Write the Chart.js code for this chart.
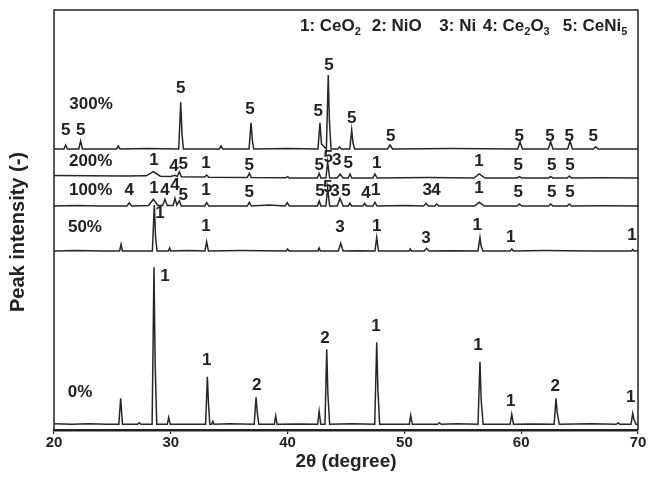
<!DOCTYPE html>
<html><head><meta charset="utf-8">
<script src="https://cdn.jsdelivr.net/npm/chart.js@4.4.1/dist/chart.umd.min.js"></script>
<style>html,body{margin:0;padding:0;background:#fff;} canvas{display:block;}</style>
</head><body>
<canvas id="c" width="648" height="499"></canvas>
<script>
// Sample names and vertical stacking offsets (arbitrary intensity units)
const sampleNames = ['0%', '50%', '100%', '200%', '300%'];
const offsets = [5.7, 179, 224, 252, 281];

// XRD patterns: [2theta, intensity above the sample's own baseline]
const xrd0 = [[20,0.5],[21.5,0],[23,0.6],[24.5,0],[25.55,0],[25.71,26],[25.86,0],[27.15,0],[27.3,1.5],[27.45,0],
  [28.4,0],[28.56,157],[28.66,60],[28.8,0],[29.7,0],[29.82,7],[29.95,0],[32.98,0],[33.13,47.5],[33.23,20],[33.34,0],
  [33.5,0],[33.6,3],[33.7,0],[35,0.5],[37.14,0],[37.3,27],[37.4,12],[37.54,0],[38.86,0],[38.98,8.5],[39.1,0],[41,0.4],
  [42.58,0],[42.7,13],[42.84,0],[43.2,0],[43.35,75],[43.45,30],[43.6,0],[45.5,0.5],[47.46,0],[47.63,82],[47.73,35],[47.88,0],
  [50.42,0],[50.54,9],[50.68,0],[52.85,0],[53,1.5],[53.15,0],[54.5,0.5],[56.3,0],[56.47,62.5],[56.57,25],[56.74,0],
  [59.05,0],[59.19,10],[59.34,0],[61,0.4],[62.82,0],[62.98,26],[63.08,12],[63.26,0],[66,0.5],[68.15,0],[68.3,1.5],[68.45,0],
  [69.4,0],[69.55,11],[69.65,5],[69.82,0],[70,0]];
const xrd50 = [[20,0],[22,0.5],[24,0],[25.62,0],[25.74,6.7],[25.86,0],[28.42,0],[28.59,46],[28.69,15],[28.82,0],[29.8,0],[29.9,3],[30,0],
  [31.5,0.4],[32.92,0],[33.07,9.3],[33.22,0],[36,0.4],[39.88,0],[40,2],[40.12,0],[42.6,0],[42.7,3],[42.8,0],[44.35,0],[44.55,7.7],[44.75,0],
  [46,0.3],[47.48,0],[47.63,13.7],[47.78,0],[50.4,0],[50.5,2],[50.6,0],[51.7,0],[51.9,2.7],[52.1,0],[54,0.3],[56.3,0],[56.47,13.7],[56.57,5],[56.72,0],
  [59.05,0],[59.19,2],[59.33,0],[62,0.4],[66,0],[69.45,0],[69.55,1.5],[69.65,0],[70,0]];
const xrd100 = [[20,0],[22,0.6],[24,0],[26.25,0],[26.45,3.3],[26.65,0],[28.1,0.5],[28.5,6.7],[28.9,0.5],[29.3,0.5],[29.5,6.7],[29.7,0.5],
  [30.2,0.5],[30.36,7.7],[30.52,1],[30.73,5.3],[30.9,0],[32.9,0],[33.07,3.3],[33.25,0],[36.55,0],[36.72,3.7],[36.9,0],[38.4,1],[39.8,0],[39.97,3.3],[40.15,0],
  [42.55,0],[42.71,5],[42.85,0],[43.28,0],[43.43,18],[43.6,0],[44.25,0],[44.49,7.7],[44.75,0],[45.2,0],[45.34,2.7],[45.48,0],[46.45,0],[46.6,2.7],[46.75,0],
  [47.3,0],[47.48,3.7],[47.66,0],[50,0.4],[51.65,0],[51.85,2.7],[52.05,0],[52.6,0],[52.77,2],[52.95,0],[56,0],[56.41,3.7],[56.85,0],
  [59.65,0],[59.84,2],[60.05,0],[62.35,0],[62.52,2],[62.7,0],[63.95,0],[64.12,2],[64.3,0],[67,0.3],[70,0]];
const xrd200 = [[20,2.5],[23,2.3],[26,2],[27.9,2.2],[28.5,6.3],[29.1,1.8],[30,1.5],[30.35,2.8],[30.55,1.5],[30.73,6.3],[30.9,1.2],
  [32.9,1],[33.07,3],[33.25,0.8],[36.55,0.5],[36.72,4.7],[36.9,0.4],[39.85,0.2],[40,1.3],[40.15,0],[42.55,0],[42.7,4.7],[42.85,0],
  [43.28,0],[43.43,16],[43.6,0],[44.25,0],[44.5,4],[44.75,0],[45.2,0],[45.34,4],[45.5,0],[47.3,0],[47.48,4],[47.66,0],[52,0.4],
  [55.95,0],[56.41,4],[56.9,0],[59.65,0],[59.84,1.3],[60.05,0],[62.35,0],[62.52,1.3],[62.7,0],[63.95,0],[64.12,2],[64.3,0],[67,0.3],[70,0]];
const xrd300 = [[20,0],[20.85,0],[21,4],[21.15,0],[22.12,0],[22.28,8],[22.44,0],[25.35,0],[25.5,3],[25.65,0],[28,0.4],
  [30.68,0],[30.85,46.7],[30.96,15],[31.08,0],[34.15,0],[34.3,3],[34.45,0],[36.7,0],[36.87,26.3],[36.98,9],[37.1,0],[40,0.4],
  [42.6,0],[42.77,26.3],[42.9,5],[43.32,0],[43.48,74],[43.58,28],[43.72,0],[44.3,0],[44.45,2],[44.6,0],[45.32,0],[45.49,19],[45.6,6],[45.74,0],
  [48.55,0],[48.77,4],[48.98,0],[54,0.4],[59.7,0],[59.9,7.3],[60.1,0],[62.32,0],[62.52,7.3],[62.72,0],[63.98,0],[64.18,8],[64.38,0],
  [66.18,0],[66.38,2.3],[66.58,0],[70,0]];
const patterns = [xrd0, xrd50, xrd100, xrd200, xrd300];

// Phase labels: [2theta, text, level]
const labels0 = [[22.23,'0%',37.3],[29.5,'1',154],[33.07,'1',70],[37.36,'2',45],[43.2,'2',92],[47.57,'1',103.3],
  [56.3,'1',85],[59.1,'1',29],[62.92,'2',44],[69.37,'1',32.3]];
const labels50 = [[22.65,'50%',202.3],[29.08,'1',217],[33.01,'1',203.3],[44.49,'3',202.3],[47.63,'1',203.3],
  [51.85,'3',192],[56.24,'1',205],[59.1,'1',192.7],[69.49,'1',195]];
const labels100 = [[23.14,'100%',239.3],[26.45,'4',239.3],[28.56,'1',241.7],[29.5,'4',239.3],[30.36,'4',245],[31.07,'5',235],
  [33.01,'1',240],[36.72,'5',238],[42.77,'5',238.3],[43.43,'5',242.7],[44.06,'3',238.3],[45.0,'5',238.3],[46.71,'4',236.7],
  [47.54,'1',240],[51.96,'3',239.3],[52.71,'4',239.3],[56.39,'1',242],[59.75,'5',238],[62.61,'5',238],[64.18,'5',238]];
const labels200 = [[23.14,'200%',268.3],[28.56,'1',270],[30.27,'4',264],[31.07,'5',266],[33.01,'1',266.7],[36.72,'5',265],
  [42.71,'5',265],[43.48,'5',273],[44.2,'3',270],[45.2,'5',267],[47.63,'1',267],[56.39,'1',269],[59.75,'5',265],[62.61,'5',265],[64.18,'5',265]];
const labels300 = [[23.17,'300%',325.7],[21.0,'5',300],[22.29,'5',300],[30.85,'5',341.7],[36.78,'5',320.7],[42.63,'5',318.3],
  [43.54,'5',365],[45.49,'5',311.7],[48.83,'5',294],[59.84,'5',294],[62.47,'5',294],[64.12,'5',294],[66.17,'5',294]];
const allLabels = [labels0, labels50, labels100, labels200, labels300];

// Phase key ("_" marks a subscript character)
const phaseKey = ['1: CeO_2', '2: NiO', '3: Ni', '4: Ce_2O_3', '5: CeNi_5'];

// Axis texts and ticks
const xTitle = '2θ (degree)';
const yTitle = 'Peak intensity (-)';
const xMin = 20, xMax = 70, xStep = 10;

const FONT = '"Liberation Sans", Arial, Helvetica, sans-serif';
const INK = '#222';

const datasets = patterns.map((p, i) => ({
  label: sampleNames[i],
  data: p.map(([a, v]) => ({x: a, y: v + offsets[i]})),
  borderColor: '#262626',
  borderWidth: 1.5,
  pointRadius: 0,
  tension: 0,
  fill: false
}));

const decor = {
  id: 'decor',
  afterDatasetsDraw(chart) {
    const {ctx, chartArea: a, scales: {x, y}} = chart;
    ctx.save();
    // phase labels
    ctx.fillStyle = INK;
    ctx.font = 'bold 17px ' + FONT;
    ctx.textAlign = 'center';
    ctx.textBaseline = 'middle';
    allLabels.forEach(list => list.forEach(([ang, t, lv]) => {
      ctx.fillText(t, x.getPixelForValue(ang), y.getPixelForValue(lv));
    }));
    // phase key
    const starts = [300, 371.7, 439.3, 482.7, 562.7];
    const base = 31;
    ctx.textAlign = 'left';
    ctx.textBaseline = 'alphabetic';
    phaseKey.forEach((s, i) => {
      let px = starts[i];
      for (let k = 0; k < s.length; k++) {
        if (s[k] === '_') {
          k++;
          ctx.font = 'bold 11px ' + FONT;
          ctx.fillText(s[k], px, base + 4);
          px += ctx.measureText(s[k]).width;
        } else {
          ctx.font = 'bold 17px ' + FONT;
          ctx.fillText(s[k], px, base);
          px += ctx.measureText(s[k]).width;
        }
      }
    });
    // y title
    ctx.save();
    ctx.translate(18, 232);
    ctx.rotate(-Math.PI / 2);
    ctx.font = 'bold 20px ' + FONT;
    ctx.textAlign = 'center';
    ctx.textBaseline = 'middle';
    ctx.fillText(yTitle, 0, 0);
    ctx.restore();
    // frame
    ctx.strokeStyle = INK;
    ctx.lineWidth = 1.5;
    ctx.beginPath();
    ctx.moveTo(a.left, a.bottom);
    ctx.lineTo(a.left, a.top);
    ctx.lineTo(a.right, a.top);
    ctx.lineTo(a.right, a.bottom);
    ctx.stroke();
    ctx.restore();
  }
};

new Chart(document.getElementById('c'), {
  type: 'line',
  data: {datasets},
  options: {
    responsive: false,
    animation: false,
    layout: {padding: {top: 10, right: 10, left: 0, bottom: 0}},
    plugins: {legend: {display: false}, tooltip: {enabled: false}},
    scales: {
      x: {
        type: 'linear', min: xMin, max: xMax,
        afterFit(s) { s.height = 69; },
        grid: {display: true, drawOnChartArea: false, drawTicks: true, tickLength: 4, color: INK, lineWidth: 1.2},
        border: {display: true, color: INK, width: 2.5},
        ticks: {stepSize: xStep, color: INK, font: {family: FONT, size: 15, weight: 'bold'}, padding: 0, maxRotation: 0},
        title: {display: true, text: xTitle, color: INK, font: {family: FONT, size: 19, weight: 'bold'}, padding: {top: 0, bottom: 26}}
      },
      y: {
        type: 'linear', min: 0, max: 420,
        afterFit(s) { s.width = 54; },
        grid: {display: false},
        border: {display: false},
        ticks: {display: false},
        title: {display: false}
      }
    }
  },
  plugins: [decor]
});
</script>
</body></html>
